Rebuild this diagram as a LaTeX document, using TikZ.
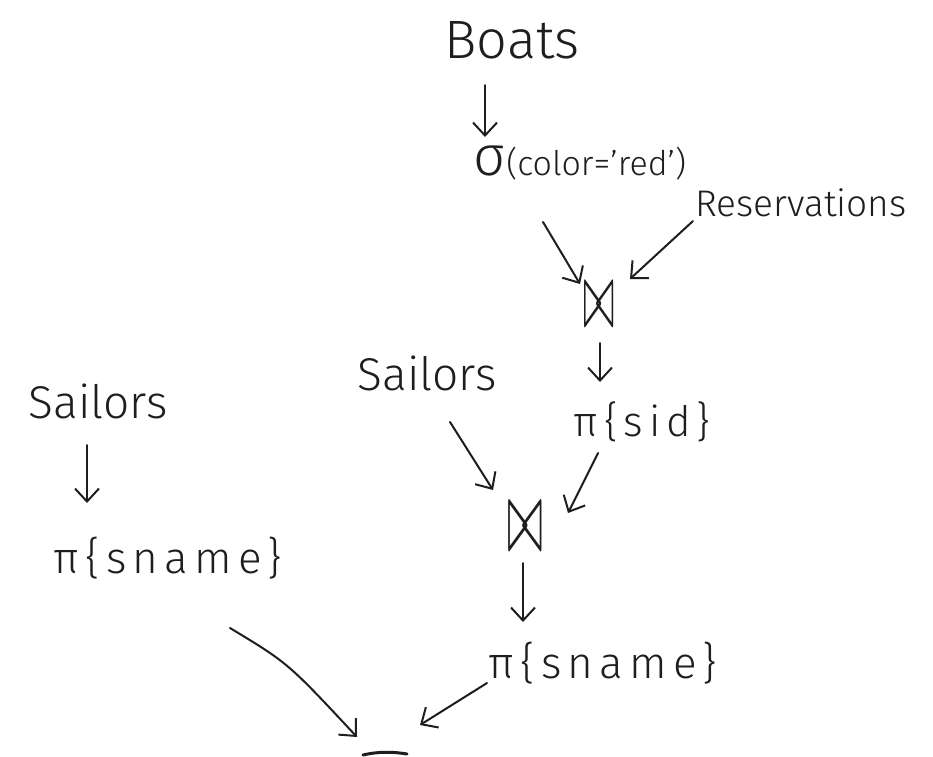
\documentclass[tikz,border=0pt]{standalone}
\usepackage{fontspec}
\setmainfont{Fira Sans Light}
\newfontfamily\widefont[LetterSpace=14]{Fira Sans Light}
\usetikzlibrary{arrows.meta,calc}
\definecolor{ink}{HTML}{1E1E1E}
\begin{document}
\begin{tikzpicture}[x=1pt,y=-1pt,
  txt/.style={inner sep=0pt, text=ink, font=\fontsize{#1pt}{#1pt}\selectfont},
  wtxt/.style={inner sep=0pt, text=ink, font=\fontsize{#1pt}{#1pt}\widefont},
  arr/.style={draw=ink, line width=2pt, line cap=round, line join=round,
    -{Straight Barb[length=13pt,width=24pt]}},
  joinop/.style={inner sep=0pt, text=ink}]
% page
\fill[white] (0,0) rectangle (933,756);
\useasboundingbox (0,0) rectangle (933,756);

% relations and operators
\node[txt=54] (boats) at (512,40) {Boats};
\node[txt=34] (sel) at (580,163) {{\fontsize{56pt}{56pt}\selectfont σ}(color='red')};
\node[txt=37] (res) at (801,203) {Reservations};
\node[joinop] (j1) at (599,305) {\resizebox{32pt}{44pt}{$\bowtie$}};
\node[wtxt=42] (sid) at (642,422) {π\{sid\}};
\node[txt=46] (sail2) at (427,373) {Sailors};
\node[joinop] (j2) at (525,527) {\resizebox{36pt}{48pt}{$\bowtie$}};
\node[wtxt=44] (sn2) at (603,663) {π\{sname\}};
\node[txt=46] (sail1) at (98,401) {Sailors};
\node[wtxt=44] (sn1) at (168,558) {π\{sname\}};
\coordinate (out) at (385,770);

% connectors
\draw[arr] ($(boats)+(-27,45)$) -- ($(sel)+(-95,-26)$);
\draw[arr] ($(sel)+(-37,59)$) -- ($(j1)+(-19,-21)$);
\draw[arr] ($(res)+(-108,18)$) -- ($(j1)+(31,-26)$);
\draw[arr] ($(j1)+(1,38)$) -- ($(sid)+(-42,-40)$);
\draw[arr] ($(sail2)+(23,49)$) -- ($(j2)+(-32,-37)$);
\draw[arr] ($(sid)+(-44,31)$) -- ($(j2)+(43,-14)$);
\draw[arr] ($(j2)+(-2,36)$) -- ($(sn2)+(-80,-41)$);
\draw[arr] ($(sail1)+(-11,44)$) -- ($(sn1)+(-81,-55)$);
\draw[arr] ($(sn1)+(62,70)$) .. controls ($(sn1)+(120,105)$) .. ($(out)+(-28,-33)$);
\draw[arr] ($(sn2)+(-116,20)$) -- ($(out)+(35,-45)$);

% top stroke of the operator below the edge
\draw[ink, line width=3pt, line cap=round] (363,755) .. controls (380,751) and (395,752) .. (407,754);
\end{tikzpicture}
\end{document}
